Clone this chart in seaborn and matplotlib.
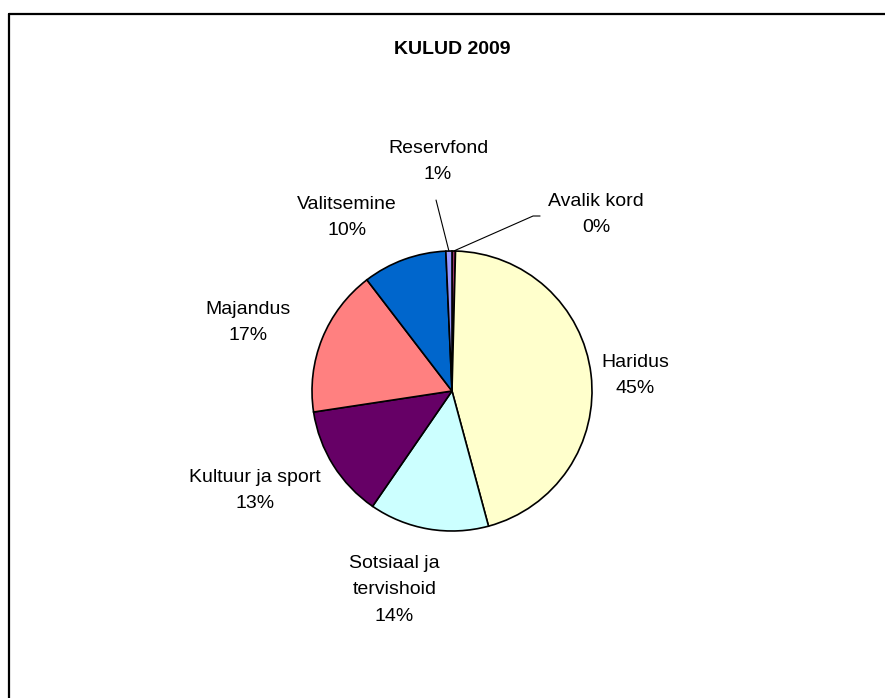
import numpy as np
import seaborn as sns

import matplotlib
matplotlib.use("Agg")  # headless mode (no GUI)

import matplotlib.pyplot as plt
from matplotlib.lines import Line2D

sns.set_theme(style="white")
plt.rcParams["font.family"] = ["Liberation Sans", "DejaVu Sans"]

# Data (clockwise from 12 o'clock)
categories = ["Avalik kord", "Haridus", "Sotsiaal ja\ntervishoid", "Kultuur ja sport",
              "Majandus", "Valitsemine", "Reservfond"]
shares = [0.4, 45.4, 13.8, 13.0, 17.0, 9.7, 0.7]
colors = ["#993366", "#FFFFCC", "#CCFFFF", "#660066", "#FF8080", "#0066CC", "#9999FF"]

# Label positions in pie-radius units (layout only)
label_pos = [(1.03, 1.26), (1.31, 0.11), (-0.41, -1.42), (-1.41, -0.71),
             (-1.46, 0.49), (-0.75, 1.24), (-0.10, 1.64)]
# leader lines for the small slices: index -> outer end point
leaders = {0: [(0.579, 1.25), (0.629, 1.25)], 6: [(-0.114, 1.364)]}

W, H = 885, 698
fig = plt.figure(figsize=(W / 100, H / 100), dpi=100)
fig.patch.set_facecolor("white")

# pie centre (452, 391) px, radius 140 px; axes spans +-2 radii
cx, cy, r = 452, 391, 140
ax = fig.add_axes([(cx - 2 * r) / W, (H - cy - 2 * r) / H, 4 * r / W, 4 * r / H])

wedges, _ = ax.pie(
    shares,
    colors=colors,
    startangle=90,
    counterclock=False,
    radius=1,
    wedgeprops=dict(edgecolor="black", linewidth=1.2),
)
ax.set_xlim(-2, 2)
ax.set_ylim(-2, 2)
ax.axis("off")

total = sum(shares)
for i, (name, val) in enumerate(zip(categories, shares)):
    pct = round(val / total * 100)
    x, y = label_pos[i]
    ax.text(x, y, f"{name}\n{pct}%", ha="center", va="center",
            fontsize=14, color="black", linespacing=1.75)

# leader lines from slice mid-angle on the rim
for i, pts in leaders.items():
    w = wedges[i]
    mid = np.deg2rad((w.theta1 + w.theta2) / 2)
    start = (np.cos(mid), np.sin(mid))
    xs = [start[0]] + [p[0] for p in pts]
    ys = [start[1]] + [p[1] for p in pts]
    ax.plot(xs, ys, color="black", linewidth=0.8)

fig.text(cx / W, 1 - 50 / H, "KULUD 2009", ha="center", va="center",
         fontsize=14, fontweight="bold", color="black")

# chart frame (top and left edges visible)
fx, fy = 9 / W, 1 - 14 / H
fig.add_artist(Line2D([fx, 1], [fy, fy], transform=fig.transFigure, color="black", linewidth=1.6))
fig.add_artist(Line2D([fx, fx], [0, fy], transform=fig.transFigure, color="black", linewidth=1.6))

fig.savefig("out.png", dpi=100)
